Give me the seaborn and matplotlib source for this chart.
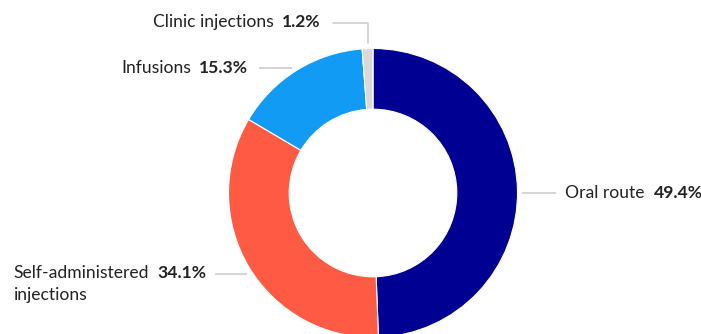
import matplotlib
matplotlib.use("Agg")
import matplotlib.pyplot as plt
import seaborn as sns
import numpy as np

# Share of treatments by route of administration
categories = ["Oral route", "Self-administered injections", "Infusions", "Clinic injections"]
shares = [49.4, 34.1, 15.3, 1.2]
value_labels = ["49.4%", "34.1%", "15.3%", "1.2%"]
colors = ["#000092", "#FF5A43", "#119BF4", "#D9D9D9"]

sns.set_theme(style="white")
plt.rcParams["font.family"] = ["Lato", "DejaVu Sans"]

W, H = 701, 334
fig = plt.figure(figsize=(W / 100, H / 100), dpi=100)
ax = fig.add_axes([0, 0, 1, 1])

# pixel geometry of the ring
CX, CY, R = 373, 193, 144.5


def px(x, y):
    """Convert pixel position (from top-left) to data coordinates."""
    return (x - CX) / R, (CY - y) / R


wedges, _ = ax.pie(
    shares,
    colors=colors,
    startangle=90,
    counterclock=False,
    radius=1.0,
    wedgeprops=dict(width=0.42, edgecolor="white", linewidth=0.8),
)
ax.set_aspect("auto")
x0, _ = px(0, 0)
x1, _ = px(W, 0)
_, y1 = px(0, 0)
_, y0 = px(0, H)
ax.set_xlim(x0, x1)
ax.set_ylim(y0, y1)
ax.axis("off")

FS = 12.6
TXT = "#222222"
LINE = "#C9C9C9"

fig.canvas.draw()
renderer = fig.canvas.get_renderer()


def width_px(t):
    return t.get_window_extent(renderer).width


def label_right(end_x, y, name, value):
    """Name + bold value, right-aligned to end_x (pixel)."""
    vx, vy = px(end_x, y)
    tv = ax.text(vx, vy, value, ha="right", va="center", fontsize=FS,
                 fontweight="bold", color=TXT)
    w = width_px(tv)
    nx, ny = px(end_x - w - 8, y)
    ax.text(nx, ny, name, ha="right", va="center", fontsize=FS, color=TXT)


def label_left(start_x, y, name, value, extra=None):
    nx, ny = px(start_x, y)
    tn = ax.text(nx, ny, name, ha="left", va="center", fontsize=FS, color=TXT)
    w = width_px(tn)
    vx, vy = px(start_x + w + 9, y)
    ax.text(vx, vy, value, ha="left", va="center", fontsize=FS,
            fontweight="bold", color=TXT)
    if extra:
        ex, ey = px(start_x, y + 22)
        ax.text(ex, ey, extra, ha="left", va="center", fontsize=FS, color=TXT)


def hline(xa, xb, y):
    (a, yy), (b, _) = px(xa, y), px(xb, y)
    ax.plot([a, b], [yy, yy], color=LINE, lw=1.1, solid_capstyle="butt")


# Clinic injections: leader goes up from the thin slice, then left
theta = np.deg2rad((wedges[3].theta1 + wedges[3].theta2) / 2)
mx = np.cos(theta)
top_y = px(0, 23)[1]
ax.plot([mx, mx, px(333, 0)[0]], [np.sin(theta) + 0.04, top_y, top_y],
        color=LINE, lw=1.1)
label_right(320, 22, "Clinic injections", value_labels[3])

# Infusions
hline(259, 292, 68)
label_right(248, 68, "Infusions", value_labels[2])

# Oral route
hline(522, 556, 193)
label_left(565, 193, "Oral route", value_labels[0])

# Self-administered injections
hline(215, 247, 274)
label_left(13, 273, "Self-administered", value_labels[1], extra="injections")

fig.savefig("out.png", dpi=100)
